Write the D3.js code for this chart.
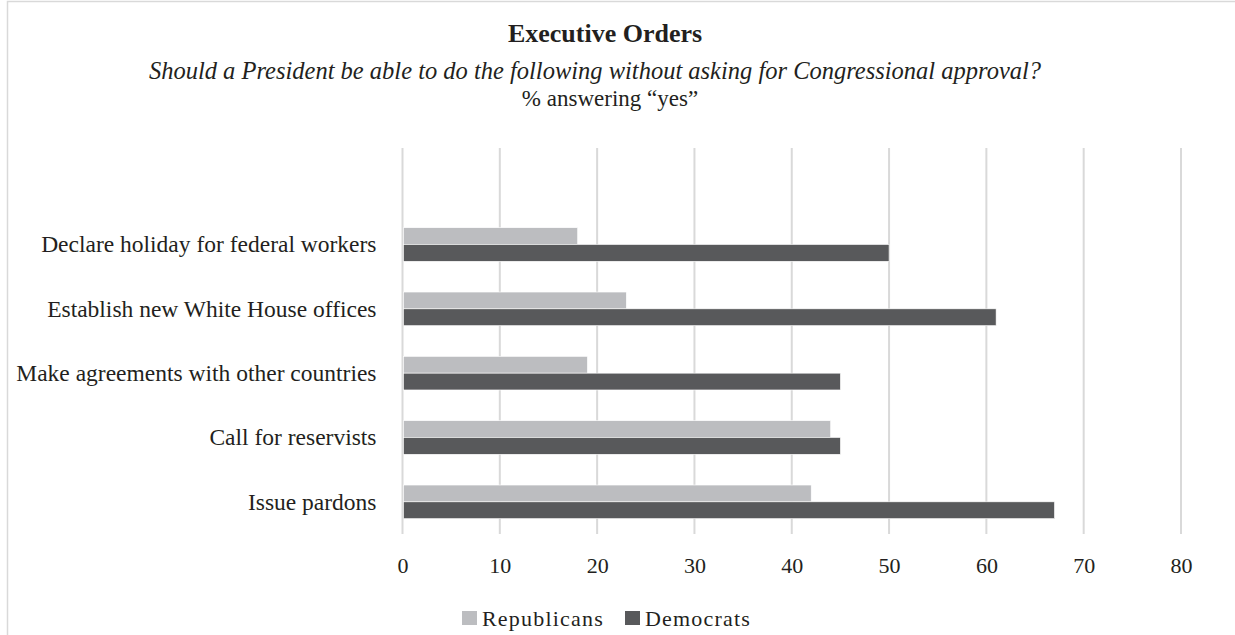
<!DOCTYPE html>
<html><head><meta charset="utf-8">
<script src="https://cdn.jsdelivr.net/npm/d3@7"></script>
<style>body{margin:0;background:#fff}svg{display:block}</style>
</head><body><svg id="c" width="1235" height="635"></svg>
<script>
const categories = ["Declare holiday for federal workers","Establish new White House offices","Make agreements with other countries","Call for reservists","Issue pardons"];
const republicans = [18,23,19,44,42];
const democrats = [50,61,45,45,67];
const seriesNames = ["Republicans","Democrats"];
const xTicks = [0,10,20,30,40,50,60,70,80];
const colors = ["#bcbdc0","#58595b"];

const svg = d3.select("#c");
const font = "'Liberation Serif','Times New Roman',serif";
const m = {left:402.5,right:1181,top:148,bottom:534};

svg.append("rect").attr("x",7.5).attr("y",1.5).attr("width",1300).attr("height",700)
  .attr("fill","#fff").attr("stroke","#d9d9d9").attr("stroke-width",1.5);

const x = d3.scaleLinear().domain([0,80]).range([m.left,m.right]);
const y = d3.scaleBand().domain(["__blank__",...categories]).range([m.top,m.bottom]).paddingInner(0).paddingOuter(0);
const barH = 16.8;

svg.append("g").selectAll("line").data(xTicks).join("line")
  .attr("x1",d=>x(d)).attr("x2",d=>x(d)).attr("y1",m.top).attr("y2",m.bottom)
  .attr("stroke","#d9d9d9").attr("stroke-width",2);

const xa = svg.append("g").attr("transform",`translate(0,${m.bottom})`)
  .call(d3.axisBottom(x).tickValues(xTicks).tickSize(0).tickPadding(0));
xa.select(".domain").remove();
xa.selectAll("text").attr("y",39).attr("dy",0).style("font-family",font).style("font-size","22px").attr("fill","#231f20");

const ya = svg.append("g").attr("transform",`translate(${m.left},0)`)
  .call(d3.axisLeft(y).tickValues(categories).tickSize(0).tickPadding(26));
ya.select(".domain").remove();
ya.selectAll("text").style("font-family",font).style("font-size","23.5px").attr("fill","#231f20").attr("dy","0.33em");

const series=[republicans,democrats];
series.forEach((vals,si)=>{
  svg.append("g").selectAll("rect").data(categories).join("rect")
    .attr("x",x(0)+1).attr("width",(d,i)=>x(vals[i])-x(0)-1)
    .attr("y",d=>y(d)+y.bandwidth()/2 - (si===0?barH:0))
    .attr("height",barH)
    .attr("fill",colors[si]).attr("stroke","#fff").attr("stroke-width",0.6);
});

svg.append("text").attr("x",605).attr("y",42).attr("text-anchor","middle")
  .style("font-family",font).style("font-size","26px").style("font-weight","bold").attr("fill","#231f20").text("Executive Orders");
svg.append("text").attr("x",595).attr("y",79).attr("text-anchor","middle")
  .style("font-family",font).style("font-size","24.5px").style("font-style","italic").attr("fill","#231f20")
  .text("Should a President be able to do the following without asking for Congressional approval?");
svg.append("text").attr("x",610).attr("y",106).attr("text-anchor","middle")
  .style("font-family",font).style("font-size","23px").attr("fill","#231f20").text("% answering \u201cyes\u201d");

const lg = svg.append("g");
const lx=[462,625];
seriesNames.forEach((n,i)=>{
  lg.append("rect").attr("x",lx[i]).attr("y",611).attr("width",15).attr("height",14).attr("fill",colors[i]);
  lg.append("text").attr("x",lx[i]+20).attr("y",626).style("font-family",font).style("font-size","22px")
    .style("letter-spacing","1.2px").attr("fill","#231f20").text(n);
});
</script></body></html>
